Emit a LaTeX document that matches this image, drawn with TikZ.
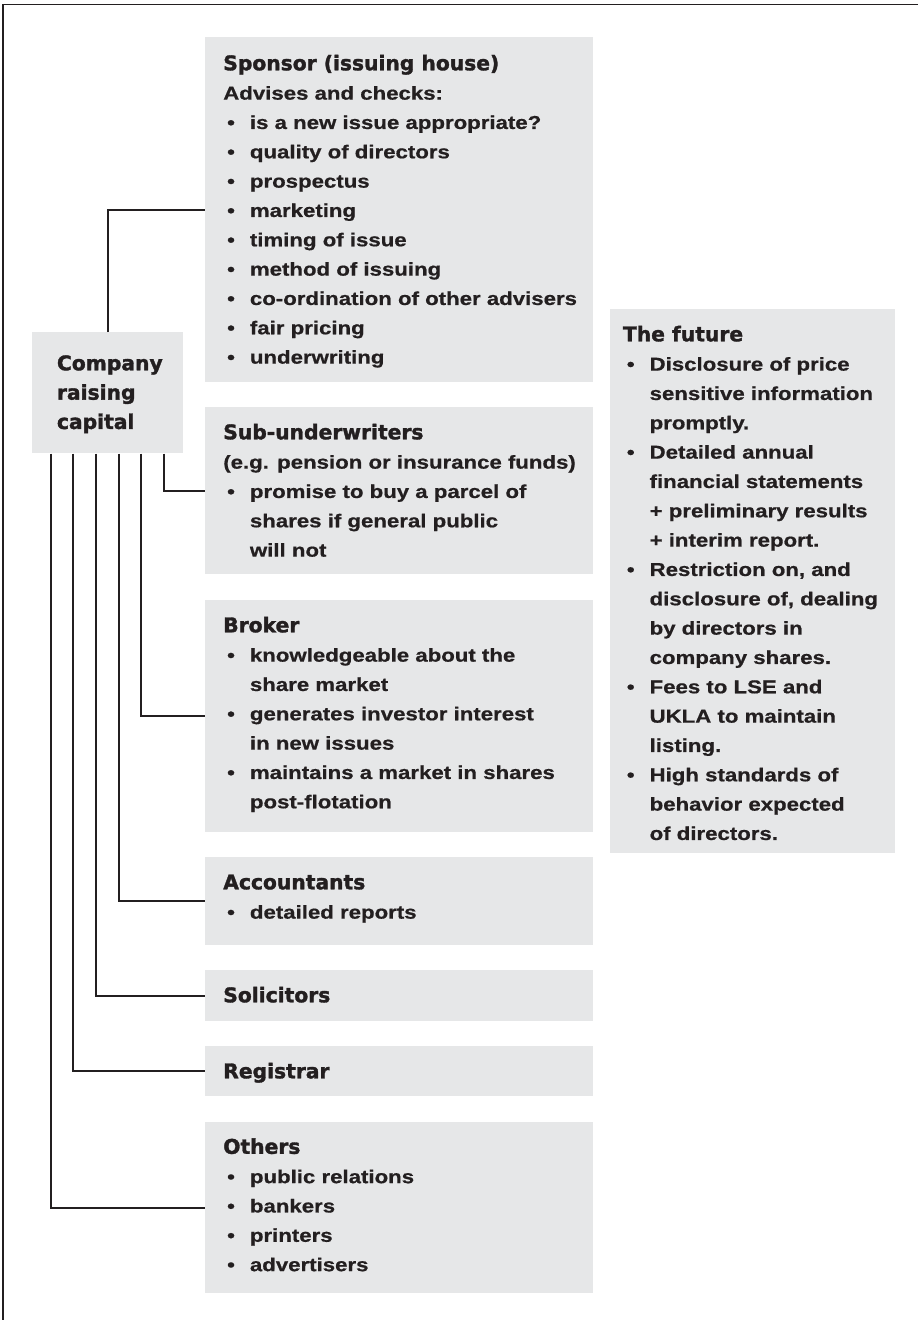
\documentclass[tikz,border=0pt]{standalone}
\usepackage{fontspec}
\usepackage{xcolor}
\usepackage{tikz}
\usetikzlibrary{positioning}

\newfontfamily\headfam{DejaVu Sans}[BoldFeatures={FakeBold=1.6}]
\newfontfamily\bodyfam{Liberation Sans}[FakeStretch=1.19, BoldFeatures={FakeBold=0.7}]
\newcommand{\headfont}{\headfam\bfseries\fontsize{15.2}{22}\selectfont}
\newcommand{\bodyfont}{\bodyfam\bfseries\fontsize{14}{22}\selectfont}
\newcommand{\bul}{\makebox[20pt][l]{\hspace{2.9pt}\textbullet}}
\newcommand{\cont}{\hspace*{20pt}}

\definecolor{boxgray}{HTML}{E6E7E8}
\definecolor{inkdark}{HTML}{231F20}

\begin{document}
\begin{tikzpicture}[
  x=0.75pt, y=-0.75pt,
  box/.style  = {fill=boxgray, inner sep=0pt, anchor=north west},
  sz/.style 2 args = {minimum width=#1*0.75pt, minimum height=#2*0.75pt},
  txt/.style  = {inner sep=0pt, anchor=north west, align=left,
                 text=inkdark, font=\bodyfont},
  link/.style = {draw=inkdark, line width=1.5pt},
]
\useasboundingbox (0,0) rectangle (918,1320);

% Frame
\draw[inkdark, line width=0.9pt] (918,4.5) -- (3,4.5) -- (3,1320);

% Company
\node[box, sz={151}{121}] (company) at (32,332) {};
\node[txt, font=\headfont] (companyT) at ([shift={(24.7,17.5)}]company.north west)
  {\strut Company\\ raising\\ capital};

% Advisers column
\node[box, sz={387.5}{344.7}] (sponsor)     at (205,37)   {};
\node[box, sz={387.5}{167}]   (sub)         at (205,407)  {};
\node[box, sz={387.5}{232}]   (broker)      at (205,600)  {};
\node[box, sz={387.5}{88}]    (accountants) at (205,857)  {};
\node[box, sz={387.5}{51}]    (solicitors)  at (205,970)  {};
\node[box, sz={387.5}{50}]    (registrar)   at (205,1046) {};
\node[box, sz={387.5}{171}]   (others)      at (205,1122) {};

% Future
\node[box, sz={285}{544}]     (future)      at (610,309)  {};

% Texts
\node[txt] (sponsorT) at ([shift={(18,12.5)}]sponsor.north west)
  {\strut{\headfont Sponsor (issuing house)}\\
   Advises and checks:\\
   \bul is a new issue appropriate?\\
   \bul quality of directors\\
   \bul prospectus\\
   \bul marketing\\
   \bul timing of issue\\
   \bul method of issuing\\
   \bul co-ordination of other advisers\\
   \bul fair pricing\\
   \bul underwriting};
\node[txt] (subT) at ([shift={(18,11.5)}]sub.north west)
  {\strut{\headfont Sub-underwriters}\\
   (e.g. pension or insurance funds)\\
   \bul promise to buy a parcel of\\
   \cont shares if general public\\
   \cont will not};
\node[txt] (brokerT) at ([shift={(18,11.5)}]broker.north west)
  {\strut{\headfont Broker}\\
   \bul knowledgeable about the\\
   \cont share market\\
   \bul generates investor interest\\
   \cont in new issues\\
   \bul maintains a market in shares\\
   \cont post-flotation};
\node[txt] (accountantsT) at ([shift={(18,11.5)}]accountants.north west)
  {\strut{\headfont Accountants}\\
   \bul detailed reports};
\node[txt] (solicitorsT) at ([shift={(18,11.5)}]solicitors.north west)
  {\strut{\headfont Solicitors}};
\node[txt] (registrarT) at ([shift={(18,11.5)}]registrar.north west)
  {\strut{\headfont Registrar}};
\node[txt] (othersT) at ([shift={(18,11)}]others.north west)
  {\strut{\headfont Others}\\
   \bul public relations\\
   \bul bankers\\
   \bul printers\\
   \bul advertisers};
\node[txt] (futureT) at ([shift={(12.7,11.5)}]future.north west)
  {\strut{\headfont The future}\\
   \bul Disclosure of price\\
   \cont sensitive information\\
   \cont promptly.\\
   \bul Detailed annual\\
   \cont financial statements\\
   \cont + preliminary results\\
   \cont + interim report.\\
   \bul Restriction on, and\\
   \cont disclosure of, dealing\\
   \cont by directors in\\
   \cont company shares.\\
   \bul Fees to LSE and\\
   \cont UKLA to maintain\\
   \cont listing.\\
   \bul High standards of\\
   \cont behavior expected\\
   \cont of directors.};

% Connectors
\draw[link] (company.north) |- (sponsor.west);
\foreach \dx/\tgt in {19/others, 41/registrar, 64/solicitors,
                      87/accountants, 109/broker, 132/sub}
  \draw[link] ([xshift=\dx*0.75pt]company.south west) |- (\tgt.west);

\end{tikzpicture}
\end{document}
